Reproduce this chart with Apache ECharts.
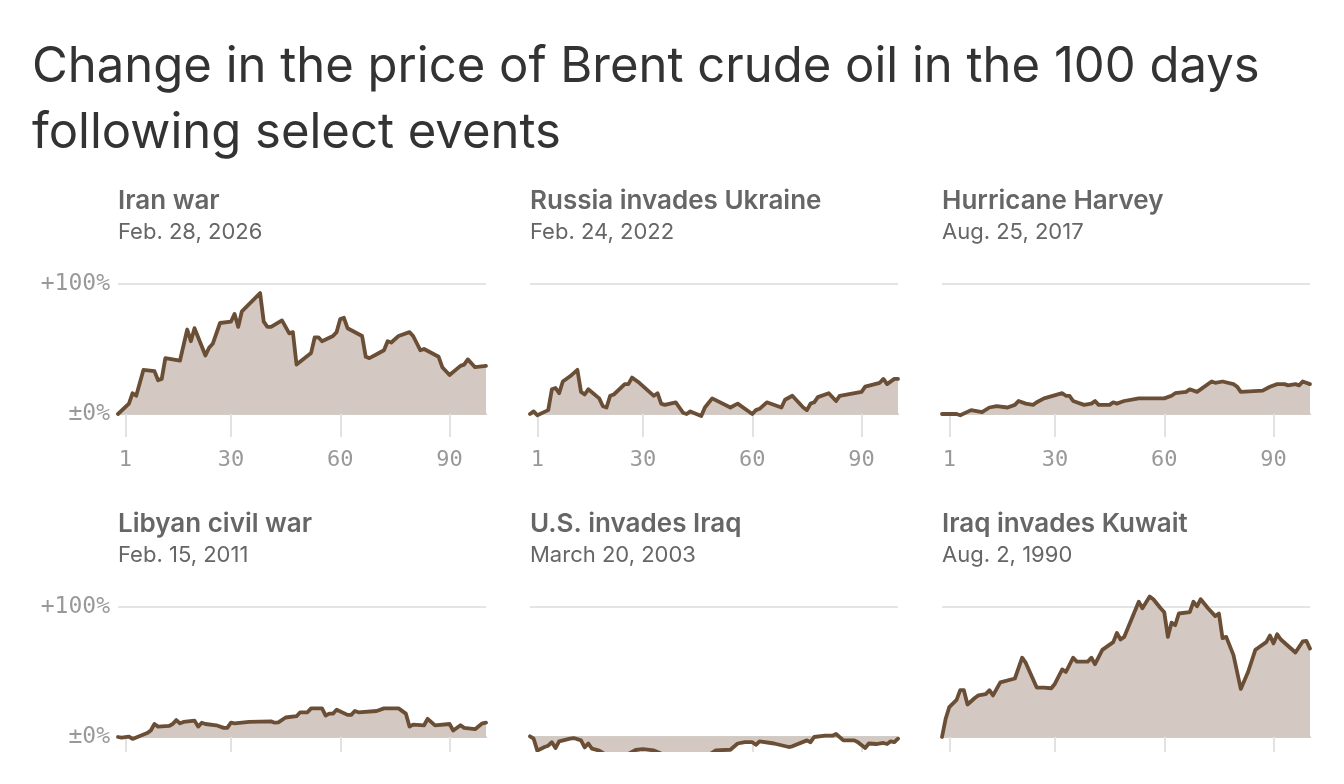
<!DOCTYPE html>
<html>
<head>
<meta charset="utf-8">
<title>Brent crude after select events</title>
<script src="https://cdn.jsdelivr.net/npm/echarts@6/dist/echarts.min.js"></script>
<style>
	html, body { margin: 0; padding: 0; background: #fff; }
	#chart { width: 1344px; height: 752px; }
</style>
</head>
<body>
<div id="chart"></div>
<script>
// tick labels (day after the event)
const dayTicks = [1, 30, 60, 90];

const eventNames = ['Iran war', 'Russia invades Ukraine', 'Hurricane Harvey',
	'Libyan civil war', 'U.S. invades Iraq', 'Iraq invades Kuwait'];
const eventDates = ['Feb. 28, 2026', 'Feb. 24, 2022', 'Aug. 25, 2017',
	'Feb. 15, 2011', 'March 20, 2003', 'Aug. 2, 1990'];

// [day, % change in price]
const iranWar = [[-1,0],[2,8],[3,16],[4,14],[6,34],[9,33],[10,26],[11,27],[12,43],[16,41],[18,65],[19,56],[20,66],[23,45],[24,51],[25,54],[27,70],[30,71],[31,77],[32,67],[33,79],[38,93],[39,71],[40,67],[41,67],[44,72],[46,62],[47,63],[48,38],[52,47],[53,59],[54,59],[55,56],[58,60],[59,63],[60,73],[61,74],[62,66],[66,60],[67,44],[68,43],[70,46],[72,49],[73,56],[74,55],[76,60],[79,63],[80,60],[82,49],[83,50],[87,44],[88,36],[90,30],[93,37],[94,38],[95,42],[97,36],[100,37]];
const russiaUkraine = [[-1,0],[0,2],[1,-1],[4,3],[5,19],[6,20],[7,16],[8,25],[10,29],[12,34],[13,17],[14,15],[15,19],[18,12],[19,6],[20,5],[21,14],[22,15],[25,23],[26,23],[27,28],[29,24],[33,14],[34,16],[35,8],[36,7],[39,9],[40,5],[41,1],[42,0],[43,2],[46,-1.5],[47,5],[49,12],[54,5],[56,8],[60,0],[61,3],[62,4],[64,9],[68,5],[69,11],[71,14],[74,5],[75,3],[76,8],[77,9],[78,13],[81,16],[83,10],[84,14],[90,17],[91,21],[95,24],[96,27],[97,23],[99,27],[100,27]];
const harvey = [[-1,0],[3,0],[4,-1],[7,3],[10,1.5],[12,5],[14,6],[17,5],[19,7],[20,10],[22,8],[24,7],[25,9],[27,12],[32,16],[33,14],[34,14],[35,10],[38,7],[40,8],[41,10],[42,7],[45,7],[46,9],[47,8],[48,9],[49,10],[53,12],[60,12],[62,14],[63,16],[66,17],[67,19],[69,17],[73,25],[74,24],[76,25],[79,23],[80,21],[81,17],[87,18],[89,21],[91,23],[93,23],[94,22],[96,23],[97,22],[98,25],[100,23]];
const libya = [[-1,0],[0,-0.5],[2,0.3],[3,-1.5],[7,3],[8,5],[9,10],[10,8],[13,8.5],[14,10],[15,13],[16,10.5],[17,11.6],[20,12.6],[21,8],[22,11],[23,10],[26,9],[28,7],[29,7],[30,11],[31,10.5],[35,11.6],[41,12],[42,11],[43,11.3],[45,15],[48,16],[49,19],[51,19],[52,22],[55,22],[56,16.5],[57,18],[58,18],[59,21],[62,17],[63,17],[64,20],[65,19],[70,20],[72,22],[76,22],[78,18],[79,8],[80,9.5],[83,9],[84,14],[86,9],[90,10],[91,5],[93,9],[94,7],[97,6],[99,10.5],[100,11]];
const usIraq = [[-1,0.5],[0,-1.3],[1,-10.5],[3,-7.7],[4,-6.7],[5,-4],[6,-8.5],[7,-3.3],[10,-1.3],[11,-0.8],[13,-2.6],[14,-8],[15,-5],[16,-9],[18,-10.5],[20,-14],[24,-16],[26,-13],[28,-10],[30,-9.3],[33,-10.3],[36,-14],[40,-17],[45,-18],[48,-14],[50,-10.3],[54,-9.8],[56,-5],[58,-4],[60,-4],[61,-6],[62,-3.3],[66,-5],[70,-7.7],[71,-7.2],[75,-2.6],[76,-4],[77,0],[80,1],[82,1],[83,2.3],[85,-2.6],[88,-2.6],[89,-4],[91,-8.5],[92,-5],[94,-5.4],[96,-4.6],[97,-5.4],[98,-3.3],[99,-4],[100,-1.3]];
const kuwait = [[-1,0],[0,14],[1,23],[3,28.5],[4,36],[5,36],[6,25],[8,30],[9,32],[11,33],[12,36],[13,32],[15,42],[19,45],[21,61],[22,57],[25,38],[27,38],[29,37.5],[30,41],[32,52],[33,50],[35,61],[36,58],[39,58],[40,61],[41,56],[43,67],[46,73],[47,80],[48,75],[49,77],[53,104],[54,99],[56,108],[57,106],[59,99],[60,96],[61,77],[62,88],[63,86],[64,95],[67,96],[68,104],[69,100.5],[70,106],[72,99],[74,93],[75,95],[76,76],[77,77],[79,63],[81,37],[83,50],[85,67],[86,69],[88,73],[89,78],[90,72],[91,79],[92,75],[96,65],[98,73.5],[99,74],[100,68]];

const panelData = [iranWar, russiaUkraine, harvey, libya, usIraq, kuwait];

var lineColor = '#6b4e36';
var fillColor = '#d3c9c2';
var monoFont = 'DejaVu Sans Mono';
var sansFont = 'Inter, "Noto Sans", sans-serif';

var colLeft = [118, 530, 942];
var rowTop = [284, 607];
var rowTitleTop = [187, 510];

var grids = [], xAxes = [], yAxes = [], series = [];
var titles = [{
	text: 'Change in the price of Brent crude oil in the 100 days\nfollowing select events',
	left: 32,
	top: 34,
	padding: 0,
	textStyle: {fontFamily: sansFont, fontSize: 49, fontWeight: 'normal', color: '#333', lineHeight: 66}
}];

for (let i = 0; i < panelData.length; i++) {
	let col = i % 3, row = Math.floor(i / 3);
	grids.push({left: colLeft[col], top: rowTop[row], width: 368, height: 130, outerBoundsMode: 'none', containLabel: false});
	titles.push({
		text: eventNames[i],
		subtext: eventDates[i],
		left: colLeft[col],
		top: rowTitleTop[row],
		padding: 0,
		itemGap: 3,
		textStyle: {fontFamily: sansFont, fontSize: 26, fontWeight: 600, color: '#666', lineHeight: 28},
		subtextStyle: {fontFamily: sansFont, fontSize: 22, color: '#666', lineHeight: 28}
	});
	xAxes.push({
		gridIndex: i,
		type: 'value',
		min: -1,
		max: 100,
		axisLine: {show: true, lineStyle: {color: '#d2ccc7', width: 2}},
		axisTick: {show: true, customValues: dayTicks, length: 23, lineStyle: {color: '#e2e2e2', width: 2}},
		axisLabel: {customValues: dayTicks, fontFamily: monoFont, fontSize: 22, color: '#999', margin: 35},
		splitLine: {show: false}
	});
	yAxes.push({
		gridIndex: i,
		type: 'value',
		min: 0,
		max: 100,
		interval: 100,
		axisLine: {show: false},
		axisTick: {show: false},
		axisLabel: {
			show: col === 0,
			fontFamily: monoFont, fontSize: 23, color: '#999', margin: 8,
			formatter: function (v) { return v === 100 ? '+100%' : (v === 0 ? '±0%' : ''); }
		},
		splitLine: {show: true, lineStyle: {color: '#e4e4e4', width: 2}}
	});
	series.push({
		type: 'line',
		xAxisIndex: i,
		yAxisIndex: i,
		data: panelData[i],
		showSymbol: false,
		clip: false,
		lineStyle: {color: lineColor, width: 3.8, join: 'round', cap: 'round'},
		areaStyle: {color: fillColor, opacity: 1},
		z: 3
	});
}

var chart = echarts.init(document.getElementById('chart'));
chart.setOption({
	animation: false,
	backgroundColor: '#fff',
	title: titles,
	grid: grids,
	xAxis: xAxes,
	yAxis: yAxes,
	series: series
});
</script>
</body>
</html>
